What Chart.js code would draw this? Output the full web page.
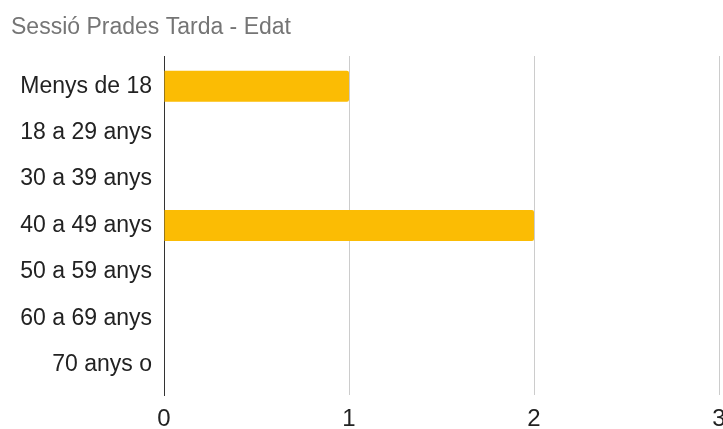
<!DOCTYPE html>
<html><head><meta charset="utf-8">
<script src="https://cdn.jsdelivr.net/npm/chart.js@4"></script>
<style>html,body{margin:0;padding:0;background:#fff}#wrap{width:723px;height:429px}</style>
</head><body><div id="wrap"><canvas id="c" width="723" height="429"></canvas></div>
<script>
const chartTitle = 'Sessió Prades Tarda - Edat';
const categories = ['Menys de 18','18 a 29 anys','30 a 39 anys','40 a 49 anys','50 a 59 anys','60 a 69 anys','70 anys o'];
const counts = [1,0,0,2,0,0,0];
const xTicks = [0,1,2,3];

const FONT = '"Liberation Sans", Arial, sans-serif';

new Chart(document.getElementById('c'), {
  type: 'bar',
  data: {
    datasets: [{
      data: counts.map((v, i) => ({ x: v, y: i })),
      backgroundColor: '#FBBC04',
      borderWidth: 0,
      borderRadius: 2,
      barPercentage: 0.667,
      categoryPercentage: 1
    }]
  },
  options: {
    indexAxis: 'y',
    responsive: false,
    animation: false,
    layout: { padding: { left: 11, right: 4, top: 0, bottom: 0 } },
    plugins: {
      legend: { display: false },
      tooltip: { enabled: false },
      title: {
        display: true,
        text: chartTitle,
        align: 'start',
        color: '#757575',
        font: { family: FONT, size: 23, weight: 'normal' },
        padding: { top: 13.5, bottom: 14.9 }
      }
    },
    scales: {
      x: {
        type: 'linear',
        min: xTicks[0],
        max: xTicks[xTicks.length - 1],
        afterBuildTicks: s => { s.ticks = xTicks.map(v => ({ value: v })); },
        afterFit: s => { s.height = 34; s.paddingLeft = 0; s.paddingRight = 0; },
        grid: {
          color: c => (c.tick && c.tick.value === 0) ? 'rgba(0,0,0,0)' : '#cccccc',
          lineWidth: 1,
          drawTicks: false
        },
        border: { display: false },
        ticks: {
          padding: 10,
          color: '#222222',
          font: { family: FONT, size: 24 },
          maxRotation: 0,
          autoSkip: false
        }
      },
      y: {
        type: 'linear',
        offset: false,
        reverse: true,
        min: -0.65,
        max: categories.length - 1 + 0.65,
        afterBuildTicks: s => { s.ticks = categories.map((_, i) => ({ value: i })); },
        afterFit: s => { s.width = 153; s.paddingTop = 0; s.paddingBottom = 0; },
        grid: { display: false, drawTicks: false, offset: false },
        border: { display: true, color: '#333333', width: 1 },
        ticks: {
          padding: 12,
          color: '#222222',
          font: { family: FONT, size: 23 },
          autoSkip: false,
          callback: v => categories[v] !== undefined ? categories[v] : ''
        }
      }
    }
  }
});
</script>
</body></html>
